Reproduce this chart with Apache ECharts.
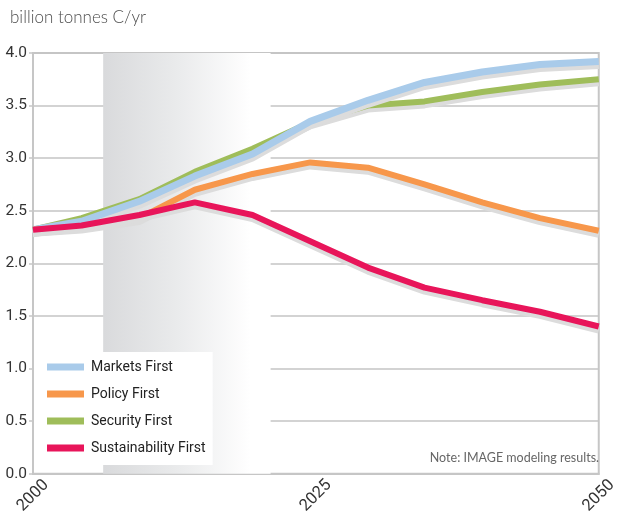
<!DOCTYPE html>
<html>
<head>
<meta charset="utf-8">
<script src="https://cdn.jsdelivr.net/npm/echarts@6/dist/echarts.min.js"></script>
<style>
html,body{margin:0;padding:0;background:#fff;}
#chart{width:620px;height:517px;}
</style>
</head>
<body>
<div id="chart"></div>
<script>
// Data
var years = [2000, 2004.3, 2009.4, 2014.3, 2019.4, 2024.5, 2029.6, 2034.6, 2039.7, 2044.8, 2050];
var marketsFirst = [2.32, 2.40, 2.59, 2.83, 3.04, 3.35, 3.55, 3.72, 3.82, 3.89, 3.92];
var policyFirst = [2.32, 2.35, 2.43, 2.70, 2.85, 2.96, 2.91, 2.75, 2.58, 2.43, 2.31];
var securityFirst = [2.32, 2.43, 2.61, 2.87, 3.09, 3.34, 3.50, 3.54, 3.63, 3.70, 3.75];
var sustainabilityFirst = [2.32, 2.36, 2.46, 2.58, 2.46, 2.21, 1.96, 1.77, 1.65, 1.54, 1.40];
var seriesNames = ['Markets First', 'Policy First', 'Security First', 'Sustainability First'];
var xTicks = [2000, 2025, 2050];
var shadedPeriod = [2006.2, 2021];
var yUnit = 'billion tonnes C/yr';
var noteText = 'Note: IMAGE modeling results.';

function pairs(vals) { return years.map(function (y, i) { return [y, vals[i]]; }); }

var condensed = 'Roboto, sans-serif';
var chart = echarts.init(document.getElementById('chart'), null, {renderer: 'canvas'});

function lineSeries(name, vals, color, width, z) {
  return {
    name: name, type: 'line', data: pairs(vals), z: z,
    showSymbol: false, symbol: 'none',
    lineStyle: {color: color, width: width, shadowColor: '#dcdcdc', shadowOffsetY: 4, shadowOffsetX: 0, shadowBlur: 0},
    itemStyle: {color: color},
    emphasis: {disabled: true},
    animation: false
  };
}

chart.setOption({
  animation: false,
  graphic: [
    {type: 'text', left: 10, top: 9, style: {text: yUnit, font: '300 17px Lato, "Open Sans", sans-serif', fill: '#4d4d4d'}},
    {type: 'text', right: 21, top: 451, z: 100, style: {text: noteText, font: '12.5px Lato, "Open Sans", sans-serif', fill: '#666'}}
  ],
  grid: {left: 33, right: 21, top: 53, bottom: 40, show: true, borderColor: '#c6c6c6', borderWidth: 2, backgroundColor: 'transparent'},
  legend: {
    data: seriesNames, orient: 'vertical', left: 34, top: 352,
    backgroundColor: '#ffffff', padding: [8, 7, 10, 13],
    itemWidth: 37, itemHeight: 7, itemGap: 13, icon: 'rect',
    textStyle: {fontFamily: condensed, fontSize: 14, color: '#222', padding: [0, 0, 0, 2]},
    selectedMode: false, z: 50
  },
  xAxis: {
    type: 'value', min: 2000, max: 2050, interval: 25,
    axisLine: {show: true, lineStyle: {color: '#c6c6c6', width: 2}},
    axisTick: {show: false},
    splitLine: {show: false},
    axisLabel: {rotate: 45, align: 'center', verticalAlign: 'middle', fontFamily: condensed, fontSize: 16.5, color: '#333', margin: 22,
      formatter: function (v) { return xTicks.indexOf(v) >= 0 ? String(v) : ''; }}
  },
  yAxis: {
    type: 'value', min: 0, max: 4, interval: 0.5,
    axisLine: {show: true, lineStyle: {color: '#c6c6c6', width: 2}},
    axisTick: {show: true, length: 4, lineStyle: {color: '#c6c6c6', width: 1.5}},
    splitLine: {show: true, lineStyle: {color: '#c4c4c4', width: 1.5}},
    axisLabel: {fontFamily: condensed, fontSize: 15.5, color: '#333', margin: 6,
      formatter: function (v) { return v.toFixed(1); }}
  },
  series: [
    {
      name: 'band', type: 'line', data: [], z: 1, silent: true,
      markArea: {
        silent: true,
        itemStyle: {opacity: 1, borderWidth: 0, borderColor: 'transparent', color: new echarts.graphic.LinearGradient(0, 0, 1, 0, [
          {offset: 0, color: '#d9dadc'}, {offset: 0.45, color: '#eaebec'}, {offset: 0.88, color: '#ffffff'}, {offset: 1, color: '#ffffff'}])},
        data: [[{xAxis: shadedPeriod[0]}, {xAxis: shadedPeriod[1]}]]
      }
    },
    lineSeries(seriesNames[0], marketsFirst, '#a9cbea', 7, 4),
    lineSeries(seriesNames[1], policyFirst, '#f7974b', 6, 5),
    lineSeries(seriesNames[2], securityFirst, '#9fbd5a', 6, 3),
    lineSeries(seriesNames[3], sustainabilityFirst, '#e8155a', 6, 6)
  ]
});
</script>
</body>
</html>
